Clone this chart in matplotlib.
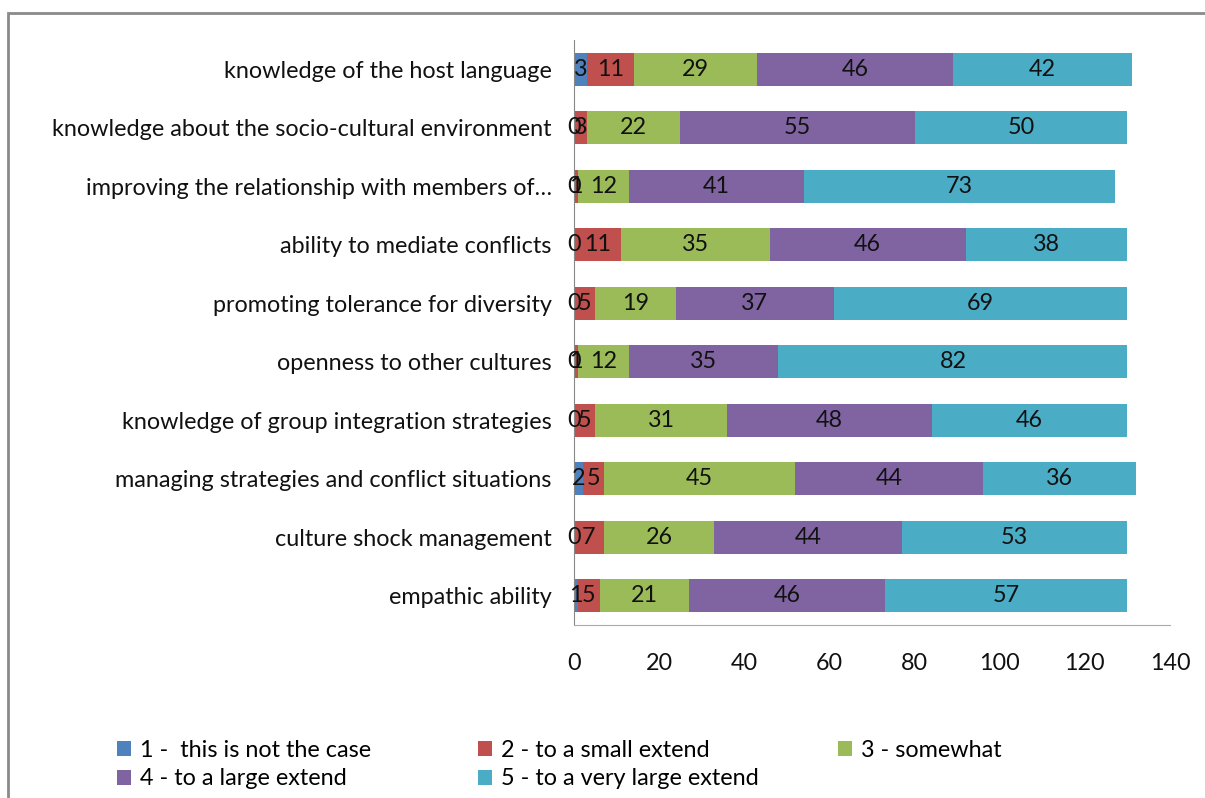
import matplotlib
matplotlib.use("Agg")
import matplotlib.pyplot as plt
from matplotlib.patches import Rectangle
import numpy as np

plt.rcParams["font.family"] = ["Lato", "DejaVu Sans"]

categories = [
    "knowledge of the host language",
    "knowledge about the socio-cultural environment",
    "improving the relationship with members of…",
    "ability to mediate conflicts",
    "promoting tolerance for diversity",
    "openness to other cultures",
    "knowledge of group integration strategies",
    "managing strategies and conflict situations",
    "culture shock management",
    "empathic ability",
]
not_the_case = [3, 0, 0, 0, 0, 0, 0, 2, 0, 1]
small_extend = [11, 3, 1, 11, 5, 1, 5, 5, 7, 5]
somewhat = [29, 22, 12, 35, 19, 12, 31, 45, 26, 21]
large_extend = [46, 55, 41, 46, 37, 35, 48, 44, 44, 46]
very_large = [42, 50, 73, 38, 69, 82, 46, 36, 53, 57]

series_names = [
    "1 -  this is not the case",
    "2 - to a small extend",
    "3 - somewhat",
    "4 - to a large extend",
    "5 - to a very large extend",
]
colors = ["#4F81BD", "#C0504D", "#9BBB59", "#8064A2", "#4BACC6"]
series = [not_the_case, small_extend, somewhat, large_extend, very_large]

FS = 16.8

fig = plt.figure(figsize=(12.05, 7.98), dpi=100)
ax = fig.add_axes([574 / 1205, 1 - 625 / 798, (1170 - 574) / 1205, (625 - 40) / 798])

y = np.arange(len(categories))
left = np.zeros(len(categories))
handles = []
for name, vals, c in zip(series_names, series, colors):
    vals = np.array(vals, dtype=float)
    bars = ax.barh(y, vals, left=left, height=0.57, color=c, label=name)
    handles.append(bars)
    for yi, l, v in zip(y, left, vals):
        ax.text(l + v / 2, yi, f"{int(v)}", ha="center", va="center",
                fontsize=FS, color="#111111")
    left += vals

ax.set_xlim(0, 140)
ax.set_ylim(len(categories) - 0.5, -0.5)
ax.set_xticks(np.arange(0, 141, 20))
ax.set_yticks(y)
ax.set_yticklabels(categories)
ax.tick_params(axis="both", length=0, labelsize=FS, colors="#111111")
ax.tick_params(axis="x", pad=20)
ax.tick_params(axis="y", pad=16)
for s in ["top", "right"]:
    ax.spines[s].set_visible(False)
ax.spines["left"].set_color("#888888")
ax.spines["bottom"].set_color("#aaaaaa")

# legend laid out row by row, one legend per column
columns = [([0, 3], 117), ([1, 4], 478), ([2], 838)]
for idx, xpix in columns:
    fig.legend([handles[i] for i in idx], [series_names[i] for i in idx],
               loc="upper left", bbox_to_anchor=(xpix / 1205, 1 - 740 / 798),
               ncol=1, frameon=False, fontsize=FS, handlelength=0.6,
               handleheight=0.6, handletextpad=0.4,
               labelspacing=0.32, borderaxespad=0, borderpad=0)

fig.patches.append(Rectangle((8 / 1205, -0.1), 1.2, 1 - 13 / 798 + 0.1,
                             transform=fig.transFigure, fill=False,
                             edgecolor="#8a8a8a", linewidth=2))

fig.savefig("out.png", dpi=100)
